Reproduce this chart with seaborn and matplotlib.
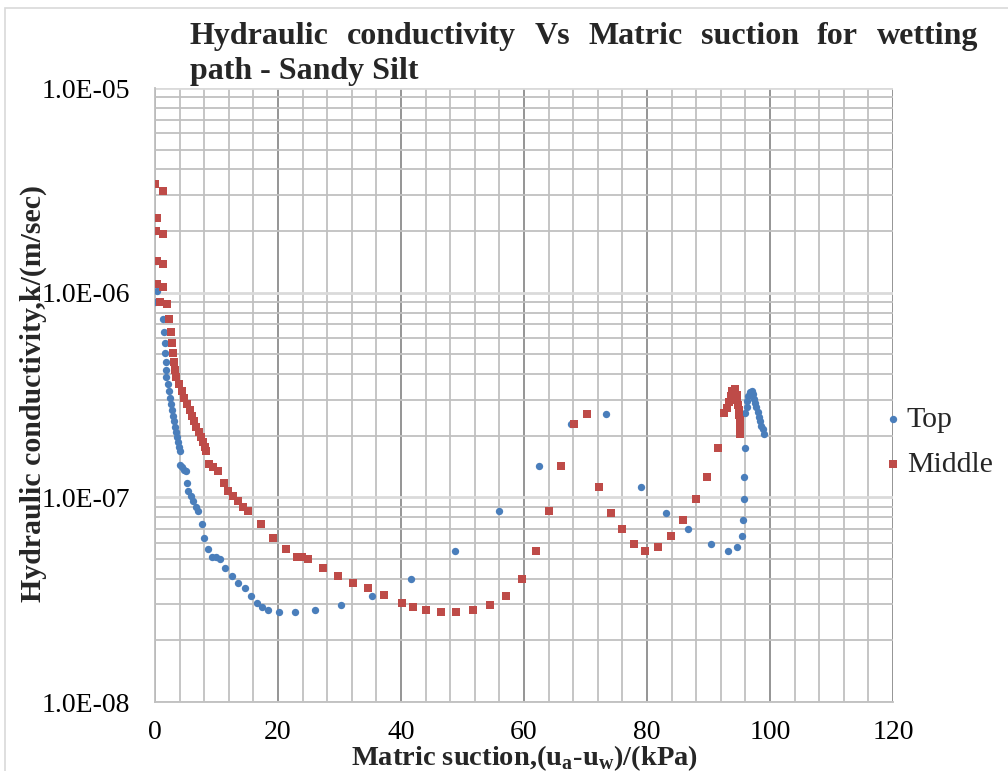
import numpy as np
import pandas as pd
import matplotlib
matplotlib.use("Agg")
import matplotlib.pyplot as plt
import seaborn as sns
from matplotlib.ticker import MultipleLocator, LogLocator, FuncFormatter, NullFormatter
from matplotlib.patches import Rectangle

# Matric suction (kPa) and hydraulic conductivity (m/s), wetting path
top_suction = [
    0.00, 0.15, 0.00, 0.30, 0.00, 1.30, 1.45, 1.60, 1.70, 1.75, 1.85,
    1.84, 2.05, 2.25, 2.44, 2.63, 2.80, 2.97, 3.13, 3.29, 3.44, 3.59, 3.73, 3.87, 4.00,
    4.07, 4.39, 4.72, 5.04, 5.25, 5.41, 5.85, 6.23, 6.62, 7.04, 7.59, 8.02, 8.67,
    9.22, 9.87, 10.57, 11.38, 12.47, 13.45, 14.63, 15.56, 16.54, 17.45, 18.42,
    20.21, 22.72, 26.07, 30.20, 35.33, 41.58, 48.78, 55.93, 62.39, 67.64, 73.38,
    79.02, 83.04, 86.62, 90.36, 93.22, 94.68, 95.40, 95.56, 95.72, 95.82, 95.98,
    96.0, 96.2, 96.3, 96.5, 96.7, 97.0, 97.2, 97.4, 97.6, 97.8, 98.0, 98.2,
    98.4, 98.6, 98.8, 99.0,
]
top_k = [
    2.0e-6, 1.43e-6, 1.10e-6, 1.02e-6, 8.97e-7, 7.4e-7, 6.45e-7, 5.7e-7, 5.1e-7, 4.6e-7, 4.2e-7,
    3.89e-7, 3.58e-7, 3.31e-7, 3.07e-7, 2.86e-7, 2.67e-7, 2.50e-7, 2.35e-7, 2.21e-7, 2.09e-7,
    1.97e-7, 1.87e-7, 1.77e-7, 1.69e-7,
    1.44e-7, 1.41e-7, 1.36e-7, 1.35e-7, 1.18e-7, 1.07e-7, 1.01e-7, 9.55e-8, 9.0e-8, 8.6e-8,
    7.4e-8, 6.3e-8, 5.6e-8, 5.13e-8, 5.1e-8, 5.0e-8, 4.5e-8, 4.14e-8, 3.83e-8, 3.6e-8,
    3.31e-8, 3.04e-8, 2.92e-8, 2.82e-8, 2.75e-8, 2.75e-8, 2.83e-8, 2.98e-8, 3.31e-8,
    3.98e-8, 5.47e-8, 8.6e-8, 1.43e-7, 2.28e-7, 2.55e-7, 1.12e-7, 8.4e-8, 6.98e-8,
    5.92e-8, 5.47e-8, 5.75e-8, 6.45e-8, 7.76e-8, 9.8e-8, 1.26e-7, 1.75e-7,
    2.58e-7, 2.77e-7, 2.96e-7, 3.13e-7, 3.27e-7, 3.29e-7, 3.20e-7, 3.04e-7, 2.89e-7,
    2.75e-7, 2.61e-7, 2.48e-7, 2.36e-7, 2.24e-7, 2.15e-7, 2.05e-7,
]

mid_suction = [
    0.00, 1.25, 0.28, 0.16, 1.35, 0.33, 1.35, 0.33, 1.35, 0.81, 2.03,
    2.23, 2.55, 2.76, 2.93, 3.09, 3.20, 3.37,
    3.85, 4.33, 4.78, 5.20, 5.61, 6.00, 6.38, 6.74, 7.09, 7.43, 7.76, 8.07, 8.34,
    8.83, 9.48, 10.20, 11.22, 11.92, 12.73, 13.54, 14.36, 15.17, 17.19, 19.24,
    21.30, 23.04, 23.85, 24.83, 27.37, 29.71, 32.24, 34.68, 37.24, 40.21, 42.00,
    44.02, 46.46, 48.94, 51.66, 54.47, 57.07, 59.67, 61.90, 64.11, 66.07, 68.18,
    70.24, 72.20, 74.15, 75.93, 77.89, 79.67, 81.74, 83.85, 85.90, 87.97, 89.80,
    91.59, 92.6, 92.95, 93.3, 93.6, 93.9, 94.3, 94.6, 94.7, 94.8, 94.9, 95.0,
    95.05, 95.1, 95.2, 95.2,
]
mid_k = [
    3.40e-6, 3.15e-6, 2.31e-6, 2.0e-6, 1.93e-6, 1.43e-6, 1.38e-6, 1.10e-6, 1.07e-6,
    8.97e-7, 8.77e-7, 7.4e-7, 6.45e-7, 5.7e-7, 5.1e-7, 4.6e-7, 4.2e-7, 3.89e-7,
    3.58e-7, 3.31e-7, 3.07e-7, 2.86e-7, 2.67e-7, 2.50e-7, 2.35e-7, 2.21e-7, 2.09e-7,
    1.97e-7, 1.87e-7, 1.77e-7, 1.69e-7,
    1.45e-7, 1.41e-7, 1.35e-7, 1.18e-7, 1.07e-7, 1.01e-7, 9.6e-8, 9.0e-8, 8.6e-8,
    7.4e-8, 6.3e-8, 5.6e-8, 5.13e-8, 5.1e-8, 5.0e-8, 4.5e-8, 4.14e-8, 3.83e-8,
    3.6e-8, 3.32e-8, 3.04e-8, 2.92e-8, 2.82e-8, 2.76e-8, 2.75e-8, 2.83e-8, 2.98e-8,
    3.31e-8, 3.98e-8, 5.47e-8, 8.6e-8, 1.43e-7, 2.28e-7, 2.55e-7, 1.12e-7, 8.4e-8,
    6.98e-8, 5.92e-8, 5.47e-8, 5.75e-8, 6.45e-8, 7.76e-8, 9.8e-8, 1.26e-7, 1.75e-7,
    2.58e-7, 2.74e-7, 2.92e-7, 3.13e-7, 3.31e-7, 3.37e-7, 3.16e-7, 2.99e-7, 2.83e-7,
    2.67e-7, 2.53e-7, 2.39e-7, 2.26e-7, 2.13e-7, 2.04e-7,
]

series_colors = {"Top": "#4A7EBB", "Middle": "#BE4B48"}

title_line1 = "Hydraulic conductivity Vs Matric suction for wetting"
title_line2 = "path - Sandy Silt"
x_label = r"Matric suction,(u$_\mathregular{a}$-u$_\mathregular{w}$)/(kPa)"
y_label = "Hydraulic conductivity,k/(m/sec)"

sns.set_theme(style="white")
plt.rcParams["font.family"] = ["Liberation Serif", "DejaVu Serif"]

W, H = 1008, 771
fig = plt.figure(figsize=(W / 100, H / 100), dpi=100)
fig.patch.set_facecolor("white")
fig.add_artist(Rectangle((5 / W, -0.05), 1.2, (H - 8) / H + 0.05, transform=fig.transFigure,
                         fill=False, edgecolor="#d9d9d9", linewidth=1.2))

ax = fig.add_axes([155 / W, (H - 702) / H, 738 / W, 614 / H])

df_top = pd.DataFrame({"suction": top_suction, "k": top_k})
df_mid = pd.DataFrame({"suction": mid_suction, "k": mid_k})
sns.scatterplot(data=df_top, x="suction", y="k", color=series_colors["Top"], marker="o",
                s=28, linewidth=0, label="Top", ax=ax, zorder=3)
sns.scatterplot(data=df_mid, x="suction", y="k", color=series_colors["Middle"], marker="s",
                s=32, linewidth=0, label="Middle", ax=ax, zorder=4)

ax.set_yscale("log")
ax.set_xlim(0, 120)
ax.set_ylim(1e-8, 1e-5)
ax.xaxis.set_major_locator(MultipleLocator(20))
ax.xaxis.set_minor_locator(MultipleLocator(4))
ax.yaxis.set_major_locator(LogLocator(base=10))
ax.yaxis.set_minor_locator(LogLocator(base=10, subs=np.arange(2, 10)))
ax.yaxis.set_major_formatter(FuncFormatter(lambda v, _: f"{v:.1E}"))
ax.yaxis.set_minor_formatter(NullFormatter())
ax.tick_params(which="both", length=0, labelsize=20, colors="black")
ax.tick_params(axis="x", pad=13)
ax.tick_params(axis="y", pad=18)

ax.set_axisbelow(True)
ax.grid(which="major", axis="x", color="#8c8c8c", linewidth=1.3)
ax.grid(which="minor", axis="x", color="#c0c0c0", linewidth=1.3)
ax.grid(which="major", axis="y", color="#dadada", linewidth=2.0)
ax.grid(which="minor", axis="y", color="#c0c0c0", linewidth=1.3)
for side in ["top", "right"]:
    ax.spines[side].set_visible(False)
for side in ["left", "bottom"]:
    ax.spines[side].set_color("#bfbfbf")
    ax.spines[side].set_linewidth(1.3)

ax.set_xlabel(x_label, fontsize=20.5, fontweight="bold")
ax.set_ylabel(y_label, fontsize=21.5, fontweight="bold")
ax.xaxis.set_label_coords(0.5, (702 - 743) / 614)
ax.yaxis.set_label_coords((47 - 155) / 738, (702 - 394) / 614)

leg = ax.legend(loc="center left", bbox_to_anchor=(0.9905, 0.4235), frameon=False,
                fontsize=21.5, handlelength=0.45, handletextpad=0.25, labelspacing=0.62,
                borderpad=0, borderaxespad=0, scatterpoints=1)

# Justified two-line title
title_size = 23
words = title_line1.split()
tx = [fig.text(0, 1 - 44 / H, w, fontsize=title_size, fontweight="bold", va="baseline", ha="left")
      for w in words]
fig.canvas.draw()
renderer = fig.canvas.get_renderer()
widths = [t.get_window_extent(renderer).width for t in tx]
left_px, right_px = 190, 978
gap = (right_px - left_px - sum(widths)) / (len(words) - 1)
xpos = left_px
for t, w in zip(tx, widths):
    t.set_x(xpos / W)
    xpos += w + gap
fig.text(left_px / W, 1 - 79 / H, title_line2, fontsize=title_size, fontweight="bold",
         va="baseline", ha="left")

fig.savefig("out.png", dpi=100, facecolor="white")
